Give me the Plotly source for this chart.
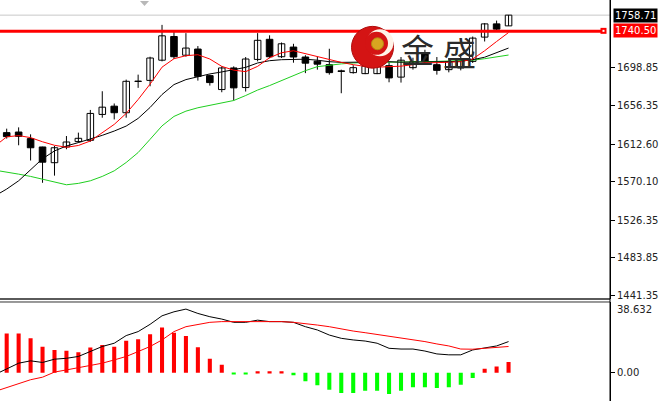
import plotly.graph_objects as go

# ---------------- data ----------------
candle_idx = list(range(43))
opens = [1625.57, 1626.24, 1618.80, 1609.33, 1591.52, 1609.33, 1615.42, 1616.89, 1646.20, 1655.56,
         1648.12, 1683.52, 1684.76, 1707.64, 1734.47, 1713.28, 1720.27, 1690.17, 1674.38, 1698.85,
         1676.64, 1708.54, 1731.32, 1711.59, 1722.52, 1711.25, 1706.51, 1702.57, 1695.58, 1693.55,
         1692.42, 1692.42, 1701.44, 1688.48, 1699.19, 1715.76, 1702.57, 1696.93, 1698.85, 1706.29,
         1733.80, 1748.79, 1746.54]
highs = [1630.08, 1631.54, 1623.65, 1609.60, 1610.46, 1621.74, 1625.57, 1651.27, 1672.47, 1658.60,
         1685.66, 1691.29, 1711.59, 1747.66, 1740.11, 1738.31, 1723.65, 1691.29, 1700.65, 1700.65,
         1711.25, 1738.31, 1735.83, 1727.71, 1726.24, 1713.28, 1711.59, 1720.61, 1696.93, 1702.01,
         1704.82, 1703.70, 1705.39, 1711.25, 1710.46, 1719.48, 1711.25, 1710.12, 1712.72, 1734.47,
         1749.58, 1752.51, 1758.75]
lows = [1618.80, 1611.25, 1594.00, 1568.75, 1576.86, 1606.74, 1614.29, 1615.20, 1642.48, 1640.56,
        1642.48, 1676.30, 1678.10, 1706.29, 1709.00, 1711.59, 1684.53, 1678.89, 1671.34, 1661.98,
        1672.13, 1706.29, 1709.90, 1710.12, 1704.82, 1692.99, 1696.93, 1691.29, 1670.21, 1692.42,
        1691.86, 1691.86, 1682.61, 1682.28, 1696.93, 1703.70, 1691.29, 1693.89, 1696.14, 1704.49,
        1728.84, 1740.11, 1746.54]
closes = [1621.06, 1621.40, 1608.43, 1592.08, 1608.43, 1614.97, 1619.14, 1647.33, 1654.43, 1648.12,
          1683.74, 1683.97, 1710.12, 1735.26, 1711.59, 1721.40, 1689.38, 1682.28, 1698.85, 1676.30,
          1709.00, 1730.19, 1711.59, 1726.24, 1711.25, 1704.26, 1703.13, 1693.55, 1694.90, 1699.19,
          1700.88, 1700.88, 1687.57, 1707.64, 1705.95, 1705.95, 1696.14, 1705.95, 1708.21, 1732.67,
          1748.79, 1742.82, 1758.71]

line_idx = list(range(-1, 43))
ma_fast = [1610.12, 1620.83, 1622.19, 1619.93, 1615.20, 1611.25, 1608.99, 1611.02, 1616.10, 1625.57,
           1634.92, 1647.33, 1663.11, 1680.58, 1699.75, 1709.33, 1712.72, 1713.84, 1709.00, 1700.65,
           1696.37, 1694.68, 1700.65, 1710.46, 1716.10, 1718.35, 1714.97, 1712.15, 1709.00, 1705.16,
           1702.57, 1700.65, 1699.75, 1700.31, 1700.88, 1702.57, 1704.82, 1704.82, 1705.39, 1705.95,
           1709.00, 1718.35, 1728.84, 1738.98]
ma_mid = [1553.75, 1561.64, 1571.00, 1583.63, 1596.03, 1604.82, 1610.46, 1614.29, 1618.01, 1622.52,
          1627.37, 1633.01, 1641.69, 1654.09, 1668.75, 1680.02, 1685.66, 1689.04, 1692.08, 1694.34,
          1696.93, 1699.53, 1704.49, 1707.08, 1708.21, 1708.77, 1708.77, 1707.64, 1705.95, 1705.16,
          1705.39, 1706.29, 1706.51, 1705.95, 1705.39, 1705.39, 1705.39, 1705.39, 1705.95, 1706.51,
          1708.21, 1711.02, 1716.10, 1721.40]
ma_slow = [1583.06, 1581.15, 1578.55, 1575.96, 1572.92, 1569.20, 1566.49, 1568.07, 1571.00, 1575.96,
           1582.28, 1591.75, 1603.02, 1618.01, 1633.23, 1643.94, 1649.92, 1653.75, 1656.35, 1659.39,
           1661.98, 1667.62, 1673.82, 1678.89, 1684.53, 1690.17, 1695.80, 1700.31, 1702.01, 1703.47,
           1704.49, 1705.16, 1705.61, 1705.39, 1705.39, 1705.61, 1705.95, 1706.29, 1706.51, 1706.85,
           1707.64, 1709.33, 1711.25, 1713.50]

macd_hist = [21.6, 21.6, 18.9, 14.3, 12.5, 12.0, 11.2, 13.8, 15.2, 14.3,
             17.6, 18.4, 21.1, 24.8, 22.0, 20.2, 14.0, 7.6, 4.3, -0.6,
             -0.6, 0.8, 0.8, 0.8, -1.5, -4.8, -7.0, -9.4, -11.2, -11.2,
             -10.0, -10.0, -11.8, -10.0, -8.1, -8.1, -8.5, -8.1, -6.7, -3.0,
             2.1, 3.4, 5.8]
macd_main = [-1.1, 1.9, 5.2, 6.5, 5.6, 7.4, 7.9, 8.9, 11.6, 14.4,
             16.2, 20.4, 22.6, 26.6, 31.3, 33.5, 35.0, 32.6, 30.8, 29.5,
             27.7, 27.7, 28.9, 28.1, 28.1, 27.7, 25.3, 23.5, 20.7, 18.9,
             18.0, 17.4, 16.2, 13.4, 13.0, 13.0, 11.9, 10.3, 9.8, 9.8,
             12.5, 13.4, 14.7, 17.1]
macd_signal = [-10.4, -8.2, -6.3, -3.9, -2.5, 0.3, 1.5, 2.8, 4.3, 5.2,
               7.0, 8.9, 11.6, 14.4, 18.0, 22.6, 25.3, 26.7, 27.7, 28.1,
               28.1, 28.1, 28.2, 28.1, 28.1, 27.7, 27.1, 26.2, 25.3, 24.0,
               22.9, 22.0, 21.1, 19.8, 18.9, 18.0, 17.1, 15.8, 14.7, 13.0,
               12.9, 13.4, 14.0, 14.4]

price_ticks = [1698.85, 1656.35, 1612.60, 1570.10, 1526.35, 1483.85, 1441.35]
price_tick_labels = ["1698.85", "1656.35", "1612.60", "1570.10", "1526.35", "1483.85", "1441.35"]
bid_price = 1758.71
bid_label = "1758.71"
level_price = 1740.50
level_label = "1740.50"
macd_top_label = "38.632"
macd_zero_label = "0.00"
logo_text = ["金", "盛"]

# ---------------- layout helpers (pixel -> paper) ----------------
W, H = 662, 403
PLOT_W = 610


def px(x):
    return x / PLOT_W


def py(y):
    return 1 - y / H


FONT = "DejaVu Sans"
FS = 10

fig = go.Figure()

# candle wicks
wx, wy = [], []
for i, h, l in zip(candle_idx, highs, lows):
    wx += [i, i, None]
    wy += [l, h, None]
fig.add_trace(go.Scatter(x=wx, y=wy, mode="lines", line=dict(color="black", width=1),
                         xaxis="x", yaxis="y", hoverinfo="skip"))

# candle bodies
base = [min(o, c) for o, c in zip(opens, closes)]
height = [max(abs(c - o), 0.35) for o, c in zip(opens, closes)]
colors = ["white" if c >= o else "black" for o, c in zip(opens, closes)]
fig.add_trace(go.Bar(x=candle_idx, y=height, base=base, width=0.55,
                     marker=dict(color=colors, line=dict(color="black", width=1)),
                     xaxis="x", yaxis="y", hoverinfo="skip"))

# moving averages
fig.add_trace(go.Scatter(x=line_idx, y=ma_slow, mode="lines", line=dict(color="#1fcf1f", width=1),
                         xaxis="x", yaxis="y"))
fig.add_trace(go.Scatter(x=line_idx, y=ma_mid, mode="lines", line=dict(color="black", width=1),
                         xaxis="x", yaxis="y"))
fig.add_trace(go.Scatter(x=line_idx, y=ma_fast, mode="lines", line=dict(color="#ff0000", width=1),
                         xaxis="x", yaxis="y"))

# MACD histogram
hist_colors = ["#ff0000" if v >= 0 else "#00ff00" for v in macd_hist]
fig.add_trace(go.Bar(x=candle_idx, y=macd_hist, width=0.34, marker=dict(color=hist_colors, line=dict(width=0)),
                     xaxis="x2", yaxis="y2"))
fig.add_trace(go.Scatter(x=line_idx, y=macd_main, mode="lines", line=dict(color="black", width=1),
                         xaxis="x2", yaxis="y2"))
fig.add_trace(go.Scatter(x=line_idx, y=macd_signal, mode="lines", line=dict(color="#ff0000", width=1),
                         xaxis="x2", yaxis="y2"))

x_range = [-0.56, 50.49]
axis_common = dict(side="right", showline=True, linecolor="black", linewidth=1, ticks="outside",
                   ticklen=4, tickcolor="black", tickwidth=1, showgrid=False, zeroline=False,
                   tickfont=dict(family=FONT, size=FS, color="#222"), fixedrange=True)

shapes = [
    # bid line
    dict(type="line", xref="paper", yref="y", x0=0, x1=1, y0=bid_price, y1=bid_price,
         line=dict(color="#c8c8c8", width=1), layer="below"),
    # horizontal level line
    dict(type="line", xref="paper", yref="y", x0=0, x1=px(601), y0=level_price, y1=level_price,
         line=dict(color="#ff0000", width=3)),
    dict(type="rect", xref="paper", yref="paper", x0=px(600.5), x1=px(606.5), y0=py(34), y1=py(28),
         fillcolor="#ff0000", line=dict(width=0)),
    dict(type="rect", xref="paper", yref="paper", x0=px(602.5), x1=px(604.5), y0=py(32), y1=py(30),
         fillcolor="white", line=dict(width=0)),
    # panel separator
    dict(type="line", xref="paper", yref="paper", x0=0, x1=1, y0=py(300.5), y1=py(300.5),
         line=dict(color="#5a5a5a", width=2)),
    dict(type="line", xref="paper", yref="paper", x0=0, x1=1, y0=py(303.5), y1=py(303.5),
         line=dict(color="#333", width=1)),
    # full-height axis line
    dict(type="line", xref="paper", yref="paper", x0=1, x1=1, y0=0, y1=1,
         line=dict(color="black", width=1)),
    # shift marker triangle
    dict(type="path", xref="paper", yref="paper",
         path=f"M {px(140)},{py(1)} L {px(149)},{py(1)} L {px(144.5)},{py(6)} Z",
         fillcolor="#b8b8b8", line=dict(width=0)),
    # logo
    dict(type="circle", xref="paper", yref="paper", x0=px(351.5), x1=px(393.5), y0=py(68.5), y1=py(26.5),
         fillcolor="#d41414", line=dict(color="#b00c0c", width=1)),
    dict(type="circle", xref="paper", yref="paper", x0=px(366.5), x1=px(393.5), y0=py(56.5), y1=py(29.5),
         fillcolor="#fff4e8", line=dict(width=0)),
    dict(type="circle", xref="paper", yref="paper", x0=px(365), x1=px(388), y0=py(55), y1=py(32),
         fillcolor="#d41414", line=dict(width=0)),
    dict(type="circle", xref="paper", yref="paper", x0=px(371.5), x1=px(383.5), y0=py(50), y1=py(38),
         fillcolor="#d9a520", line=dict(color="#b88a10", width=1)),
]

annotations = [
    dict(xref="paper", yref="paper", x=px(613), y=py(15.3), xanchor="left", yanchor="middle",
         text=bid_label, showarrow=False, bgcolor="black", borderpad=1,
         font=dict(family=FONT, size=FS, color="white")),
    dict(xref="paper", yref="paper", x=px(613), y=py(31), xanchor="left", yanchor="middle",
         text=level_label, showarrow=False, bgcolor="#ff0000", borderpad=1,
         font=dict(family=FONT, size=FS, color="white")),
    dict(xref="paper", yref="paper", x=px(615), y=py(311.5), xanchor="left", yanchor="middle",
         text=macd_top_label, showarrow=False, font=dict(family=FONT, size=FS, color="#222")),
    dict(xref="paper", yref="paper", x=px(417), y=py(49), xanchor="center", yanchor="middle",
         text=logo_text[0], showarrow=False, font=dict(family="Noto Sans CJK SC", size=33, color="#2b2b2b")),
    dict(xref="paper", yref="paper", x=px(459), y=py(52), xanchor="center", yanchor="middle",
         text=logo_text[1], showarrow=False, font=dict(family="Noto Sans CJK SC", size=33, color="#2b2b2b")),
]

fig.update_layout(
    width=W, height=H,
    margin=dict(l=0, r=W - PLOT_W, t=0, b=0),
    paper_bgcolor="white", plot_bgcolor="white",
    showlegend=False, barmode="overlay", hovermode=False,
    xaxis=dict(domain=[0, 1], range=x_range, visible=False, anchor="y", fixedrange=True),
    xaxis2=dict(domain=[0, 1], range=x_range, visible=False, anchor="y2", matches="x", fixedrange=True),
    yaxis=dict(domain=[1 - 300 / H, 1], range=[1437.63, 1775.85], anchor="x",
               tickvals=price_ticks, ticktext=price_tick_labels, **axis_common),
    yaxis2=dict(domain=[0, 1 - 304 / H], range=[-15.62, 38.632], anchor="x2",
                tickvals=[0], ticktext=[macd_zero_label], **axis_common),
    shapes=shapes,
    annotations=annotations,
)

fig.write_html("out.html", config={"displayModeBar": False},
               post_script="document.body.style.margin='0px';document.body.style.overflow='hidden';")
